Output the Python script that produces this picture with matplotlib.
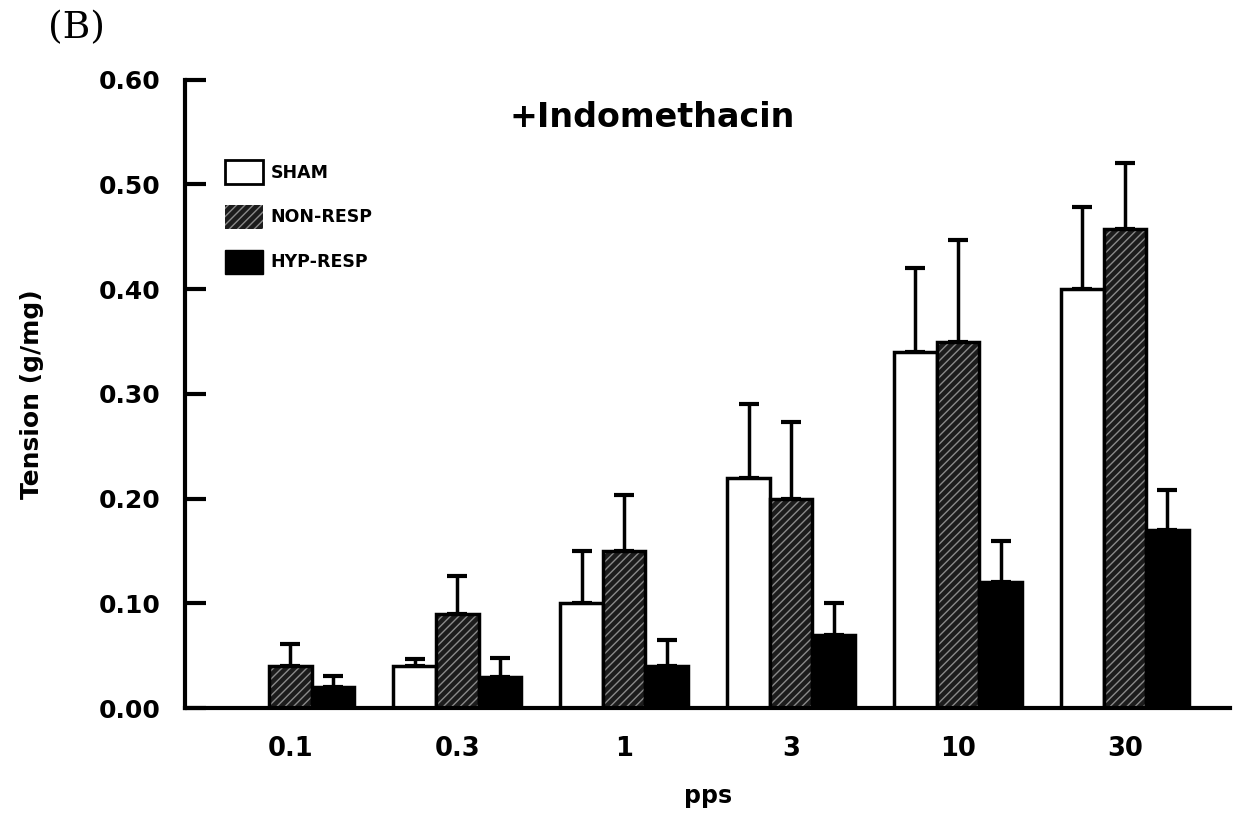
import numpy as np
import matplotlib
matplotlib.use("Agg")
import matplotlib.pyplot as plt
from matplotlib.patches import Patch

# values (g/mg)
pps = ['0.1', '0.3', '1', '3', '10', '30']
sham = [0.00, 0.04, 0.10, 0.22, 0.34, 0.40]
sham_err = [0.000, 0.007, 0.050, 0.070, 0.080, 0.078]
nonresp = [0.040, 0.090, 0.150, 0.200, 0.350, 0.457]
nonresp_err = [0.021, 0.036, 0.053, 0.073, 0.097, 0.063]
hypresp = [0.020, 0.030, 0.040, 0.070, 0.120, 0.170]
hypresp_err = [0.011, 0.018, 0.025, 0.030, 0.040, 0.038]

plt.rcParams['font.family'] = 'DejaVu Sans'
plt.rcParams['hatch.color'] = '#8a8a8a'
plt.rcParams['hatch.linewidth'] = 1.0

fig = plt.figure(figsize=(12.35, 8.13), dpi=100)
ax = fig.add_axes([0.150, 0.129, 0.846, 0.773])

x = np.arange(len(pps))
w = 0.255
lw = 2.5

# SHAM: white bars
ax.bar(x - w, sham, w, color='white', edgecolor='black', linewidth=lw, zorder=2)
# NON-RESP: dark with light hatching, then outline
ax.bar(x, nonresp, w, color='#1c1c1c', hatch='////', zorder=2)
ax.bar(x, nonresp, w, fill=False, edgecolor='black', linewidth=lw, zorder=3)
# HYP-RESP: solid black
ax.bar(x + w, hypresp, w, color='black', edgecolor='black', linewidth=lw, zorder=2)

ekw = dict(fmt='none', ecolor='black', elinewidth=2.5, capsize=7, capthick=3, zorder=1)
for off, vals, errs in [(-w, sham, sham_err), (0, nonresp, nonresp_err), (w, hypresp, hypresp_err)]:
    vals = np.array(vals)
    errs = np.array(errs)
    m = vals > 0
    ax.errorbar(x[m] + off, vals[m], yerr=[np.zeros(m.sum()), errs[m]], **ekw)

ax.set_xlim(-0.63, 5.63)
ax.set_ylim(0, 0.60)
ax.set_yticks(np.arange(0, 0.61, 0.10))
ax.set_yticklabels([f'{v:.2f}' for v in np.arange(0, 0.61, 0.10)])
ax.set_xticks(x)
ax.set_xticklabels(pps)

for s in ['top', 'right']:
    ax.spines[s].set_visible(False)
for s in ['left', 'bottom']:
    ax.spines[s].set_linewidth(3)

ax.tick_params(axis='y', direction='in', length=15, width=3, labelsize=18, pad=18)
ax.tick_params(axis='x', length=0, labelsize=18.5, pad=20)
for lab in ax.get_xticklabels() + ax.get_yticklabels():
    lab.set_fontweight('bold')

ax.set_xlabel('pps', fontsize=17, fontweight='bold', labelpad=16)
ax.set_ylabel('Tension (g/mg)', fontsize=18, fontweight='bold', labelpad=39)

ax.text(0.447, 0.925, '+Indomethacin', transform=ax.transAxes, ha='center', va='baseline',
        fontsize=24, fontweight='bold')
fig.text(0.039, 0.965, '(B)', fontsize=27, family='DejaVu Serif', ha='left', va='center')

handles = [
    Patch(facecolor='white', edgecolor='black', linewidth=2),
    Patch(facecolor='#1c1c1c', hatch='////'),
    Patch(facecolor='black', edgecolor='black'),
]
ax.legend(handles, ['SHAM', 'NON-RESP', 'HYP-RESP'], loc='upper left',
          bbox_to_anchor=(0.030, 0.886), frameon=False, borderpad=0,
          handlelength=2.2, handleheight=1.75, handletextpad=0.4, labelspacing=1.2,
          prop={'weight': 'bold', 'size': 12.5})

fig.savefig('out.png', dpi=100)
